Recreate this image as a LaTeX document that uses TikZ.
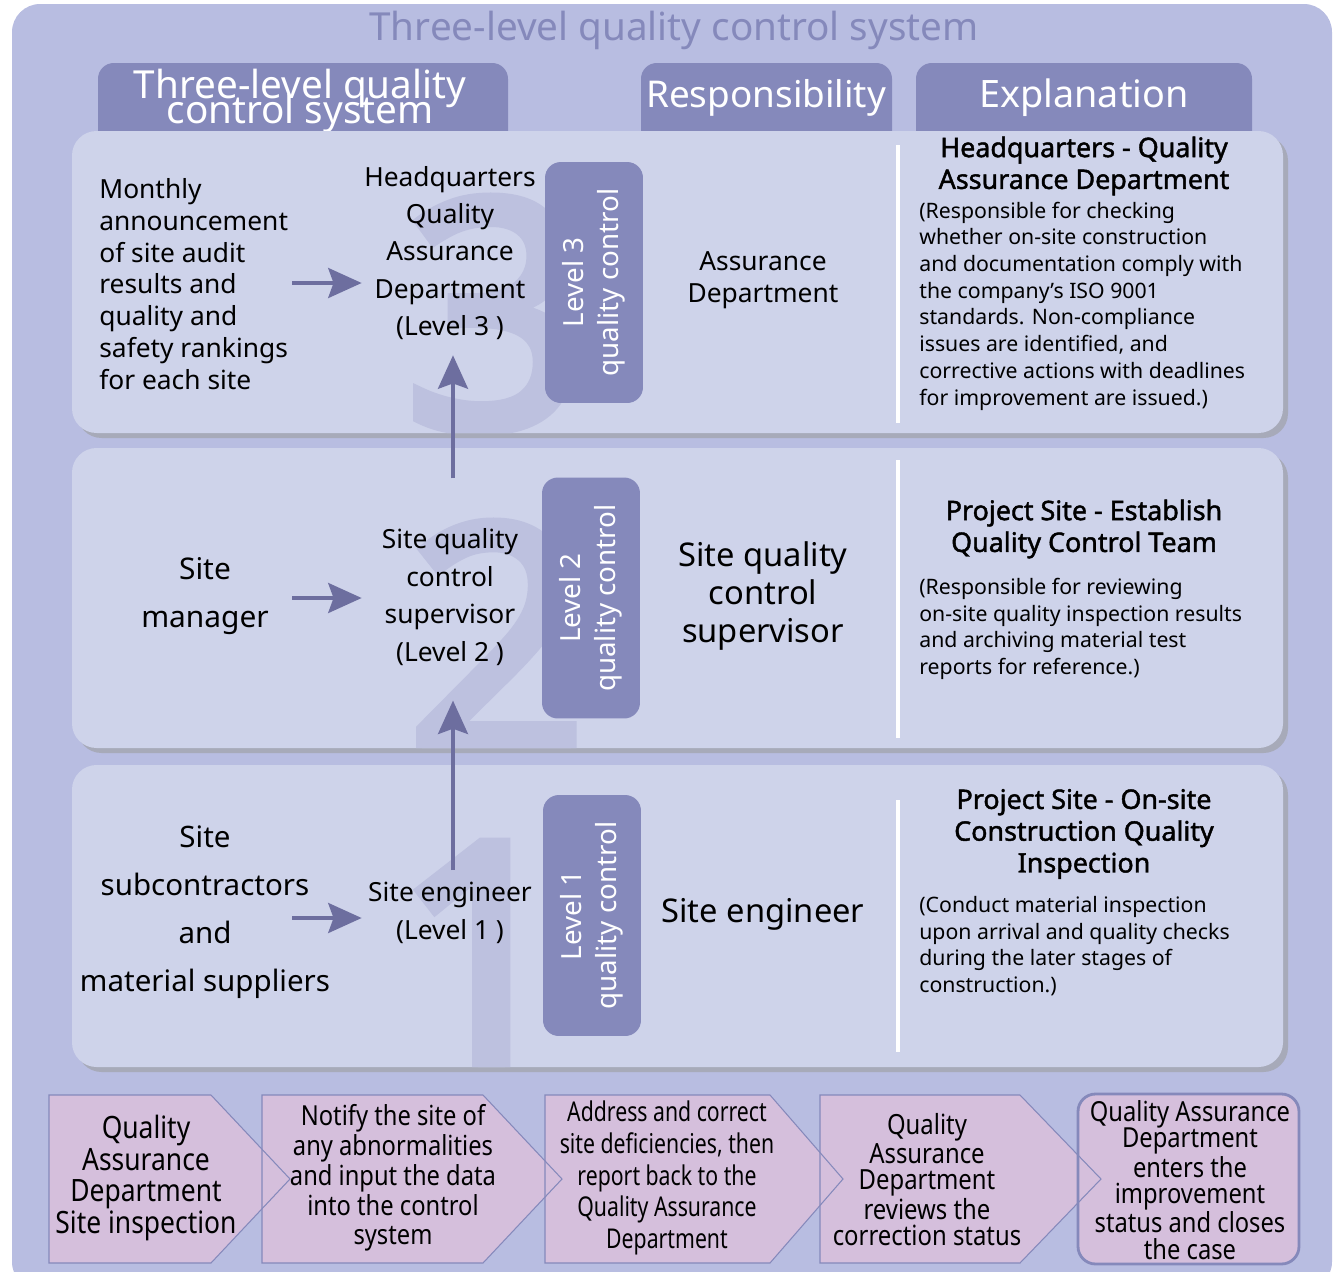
\documentclass[tikz,border=0pt]{standalone}
\usepackage{fontspec}
\setmainfont{Noto Sans}
\newfontfamily\condfont[FakeStretch=0.86]{Noto Sans}
\newfontfamily\narrowfont[FakeStretch=0.78]{Noto Sans}
\newfontfamily\heavyfont[FakeBold=1.6]{Noto Sans}
\newfontfamily\digitfont[FakeBold=3.5]{Noto Sans}
\usetikzlibrary{arrows.meta}
\usetikzlibrary{positioning}
\usetikzlibrary{calc}

\definecolor{pageblue}{HTML}{B8BDE1}
\definecolor{panelblue}{HTML}{CED3EA}
\definecolor{tabblue}{HTML}{8589BB}
\definecolor{digitblue}{HTML}{BDC1DF}
\definecolor{arrowblue}{HTML}{6D6E9F}
\definecolor{shadowgray}{HTML}{A7AAB9}
\definecolor{stepfill}{HTML}{D5BFDC}

\newcommand{\fs}[2]{\fontsize{#1}{#2}\selectfont}
\newcommand{\tightlines}{\lineskiplimit=-30pt\relax}

\tikzset{panel/.style={fill=panelblue,rounded corners=14pt}}
\tikzset{tab/.style={fill=tabblue,rounded corners=9pt}}
\tikzset{leveltag/.style={fill=tabblue,
                          rounded corners=9pt,
                          text=white,
                          align=center,
                          inner sep=0pt,
                          minimum width=4.82cm,
                          minimum height=1.96cm,
                          font=\fs{15.8}{20}}}
\tikzset{flow/.style={draw=arrowblue,
                      line width=2.3pt,
                      -{Stealth[length=19pt,width=17pt,inset=3pt]}}}
\tikzset{stepbox/.style={fill=stepfill}}
\tikzset{stepline/.style={draw=tabblue,line width=0.6pt}}

\begin{document}
\begin{tikzpicture}
    [
      x=0.02cm, y=-0.02cm,
      txt/.style={inner sep=0pt,align=center,text=black},
      tabtext/.style={inner sep=0pt,align=center,text=white},
      digit/.style={inner sep=0pt,anchor=base,text=digitblue,font=\digitfont\fs{180}{180}},
    ]
    \useasboundingbox (0,0) rectangle (1333,1272);
    \clip (0,0) rectangle (1333,1272);
    \path [fill=pageblue,rounded corners=16pt] (12,4) rectangle (1332,1290);

    % title and column heads
    \node [txt,text=tabblue,font=\fs{22}{24}] (title) at (674,30) {Three-level quality control system};
    \foreach \xa/\xb in {98/508, 641/892, 916/1252}
      \path [tab] (\xa,63) rectangle (\xb,160);
    \node [tabtext,font=\fs{22}{14}\tightlines] (hdsys) at (300,101) {Three-level quality\\control system};
    \node [tabtext,font=\fs{21}{24}] (hdresp) at (766,98) {Responsibility};
    \node [tabtext,font=\fs{21.5}{24}] (hdexp) at (1084,98) {Explanation};

    % panels
    \foreach \ya/\yb/\da/\db in {131/433/145/423, 448/748/460/738, 765/1067/800/1052}
    {
      \path [panel,fill=shadowgray] (77,\ya+5) rectangle (1288,\yb+5);
      \path [panel] (72,\ya) rectangle (1283,\yb);
      \path [draw=white,line width=1.8pt] (898,\da) -- (898,\db);
    }

    % big level numbers
    \foreach \ya/\yb/\d/\x/\b in {131/433/3/495/427, 448/748/2/497/752, 765/1067/1/483/1069}
    {
      \begin{scope}
        \clip [rounded corners=14pt] (72,\ya) rectangle (1283,\yb);
        \node [digit] (num\d) at (\x,\b) {\d};
      \end{scope}
    }

    % level tags
    \foreach \i/\x/\y in {3/594/282.5, 2/591/598, 1/592/915.5}
      \node [leveltag,rotate=90] (lvl\i) at (\x,\y) {Level \i\\quality control};

    % level 3
    \node [txt,align=left,anchor=west,font=\fs{15}{18.1}] (audit) at (99,284)
      {Monthly\\announcement\\of site audit\\results and\\quality and\\safety rankings\\for each site};
    \node [txt,font=\fs{15}{21.3},minimum width=3.52cm] (hq) at (450,253)
      {Headquarters\\Quality\\Assurance\\Department\\(Level 3 )};
    \node [txt,font=\fs{15}{18.1}] (resp3) at (763,280) {Assurance\\Department};
    \node [txt,font=\heavyfont\fs{15.3}{18.1}] (hqtitle) at (1084,166)
      {Headquarters - Quality\\Assurance Department};
    \node [txt,align=left,anchor=west,font=\fs{12.1}{15.2}] (hqbody) at (919,306)
      {(Responsible for checking\\whether on-site construction\\and documentation comply with\\the company's ISO 9001\\standards. Non-compliance\\issues are identified, and\\corrective actions with deadlines\\for improvement are issued.)};

    % level 2
    \node [txt,font=\fs{17}{27.2}] (mgr) at (205,596) {Site\\manager};
    \node [txt,font=\fs{15}{21.3},minimum width=3.52cm] (sup) at (450,597)
      {Site quality\\control\\supervisor\\(Level 2 )};
    \node [txt,font=\fs{18.6}{21.5}] (resp2) at (763,596) {Site quality\\control\\supervisor};
    \node [txt,font=\heavyfont\fs{15.3}{18.1}] (sitetitle) at (1084,529)
      {Project Site - Establish\\Quality Control Team};
    \node [txt,align=left,anchor=west,font=\fs{12.1}{15.2}] (sitebody) at (919,629)
      {(Responsible for reviewing\\on-site quality inspection results\\and archiving material test\\reports for reference.)};

    % level 1
    \node [txt,font=\fs{16.8}{27.2}] (subs) at (205,912)
      {Site\\subcontractors\\and\\material suppliers};
    \node [txt,font=\fs{15}{21.3},minimum width=3.52cm] (eng) at (450,913)
      {Site engineer\\(Level 1 )};
    \node [txt,font=\fs{18.6}{21.5}] (resp1) at (763,914) {Site engineer};
    \node [txt,font=\heavyfont\fs{15.3}{18.1}] (insptitle) at (1084,834)
      {Project Site - On-site\\Construction Quality\\Inspection};
    \node [txt,align=left,anchor=west,font=\fs{12.1}{15.2}] (inspbody) at (919,946)
      {(Conduct material inspection\\upon arrival and quality checks\\during the later stages of\\construction.)};

    % arrows
    \coordinate (tail3) at (292,283);
    \coordinate (tail2) at (292,598);
    \coordinate (tail1) at (292,918);
    \draw [flow] (tail3) -- (tail3 -| hq.west);
    \draw [flow] (tail2) -- (tail2 -| sup.west);
    \draw [flow] (tail1) -- (tail1 -| eng.west);
    \draw [flow] ($(eng.north)+(3,-12)$) -- ($(sup.south)+(3,35)$);
    \draw [flow] ($(sup.north)+(3,-50)$) -- ($(hq.south)+(3,15)$);

    % process steps
    \foreach \l/\c/\t in {49/211/290, 262/483/562, 545/770/843, 820/1020/1101}
      \path [stepbox] (\l,1095) -- (\c,1095) -- (\t,1179) -- (\c,1263) -- (\l,1263) -- cycle;
    \path [stepbox,rounded corners=10pt] (1078,1094) rectangle (1299,1264);
    \foreach \l/\c/\t in {49/211/290, 262/483/562, 545/770/843, 820/1020/1101}
      \path [stepline] (\l,1095) -- (\c,1095) -- (\t,1179) -- (\c,1263) -- (\l,1263) -- cycle;
    \path [stepline,line width=1.6pt,rounded corners=10pt] (1078,1094) rectangle (1299,1264);

    \node [txt,font=\condfont\fs{17.5}{18.1}] (step1) at (146,1178)
      {Quality\\Assurance\\Department\\Site inspection};
    \node [txt,font=\condfont\fs{15.7}{17}] (step2) at (393,1178)
      {Notify the site of\\any abnormalities\\and input the data\\into the control\\system};
    \node [txt,font=\narrowfont\fs{15.5}{18.1}] (step3) at (667,1178)
      {Address and correct\\site deficiencies, then\\report back to the\\Quality Assurance\\Department};
    \node [txt,font=\condfont\fs{15.8}{15.1}] (step4) at (927,1180)
      {Quality\\Assurance\\Department\\reviews the\\correction status};
    \node [txt,font=\condfont\fs{15.7}{15.1}] (step5) at (1190,1180)
      {Quality Assurance\\Department\\enters the\\improvement\\status and closes\\the case};
  \end{tikzpicture}
\end{document}
